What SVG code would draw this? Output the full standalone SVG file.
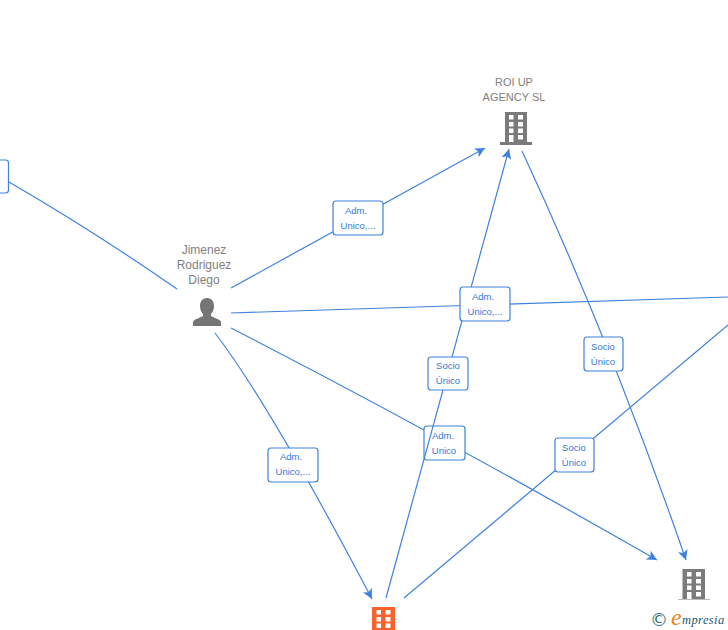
<svg xmlns="http://www.w3.org/2000/svg" width="728" height="630" viewBox="0 0 728 630">
<defs>
<style>
.c{fill:none;stroke:#3f82de;stroke-width:1.2}
.b{fill:#fff;stroke:#3f82de;stroke-width:1.2}
.l{font:9.5px "Liberation Sans",Arial,sans-serif;fill:#3578d8;text-anchor:middle}
.n{font:12px "Liberation Sans",Arial,sans-serif;fill:#808080;text-anchor:middle}
.r{font-size:11px}
.w{fill:#fff}
</style>
<marker id="a" markerWidth="11" markerHeight="10" refX="10" refY="5" orient="auto" markerUnits="userSpaceOnUse"><path d="M0 0L10 5L0 10L2.500 5Z" fill="#3f82de"/></marker>
<path id="w" d="M4 3h4.500v4.500H4zM13 3h5v4.500h-5zM4 10h4.500v4.500H4zM13 10h5v4.500h-5zM4 16.500h4.500V21H4zM13 16.500h5V21h-5zM4 23h4.500v7H4zM13 23h5v4.500h-5z"/>
</defs>
<g id="connectors">
<path class="c" d="M9 182Q95 232 177 289"/>
<path class="c" marker-end="url(#a)" d="M231 288L485 148"/>
<path class="c" d="M231 313L728 297"/>
<path class="c" marker-end="url(#a)" d="M215 333Q270 405 372 599"/>
<path class="c" marker-end="url(#a)" d="M231 328Q430 430 657 560"/>
<path class="c" d="M404 598L728 325"/>
<path class="c" marker-end="url(#a)" d="M522 151Q610 340 686 560"/>
<g><rect class="b" x="424" y="426" width="41" height="34" rx="3"/><text class="l" x="443" y="439">Adm.</text><text class="l" x="444" y="454">Unico</text></g>
<path class="c" marker-end="url(#a)" d="M386 598L509 149"/>
<g><rect class="b" x="333" y="201" width="50" height="34" rx="3"/><text class="l" x="356" y="214">Adm.</text><text class="l" x="358" y="229">Unico,...</text></g>
<g><rect class="b" x="460" y="287" width="50" height="34" rx="3"/><text class="l" x="483" y="300">Adm.</text><text class="l" x="485" y="315">Unico,...</text></g>
<g><rect class="b" x="428" y="357" width="40" height="33" rx="3"/><text class="l" x="448" y="369">Socio</text><text class="l" x="448" y="384">Único</text></g>
<g><rect class="b" x="268" y="448" width="50" height="34" rx="3"/><text class="l" x="291" y="460">Adm.</text><text class="l" x="293" y="475">Unico,...</text></g>
<g><rect class="b" x="555" y="438" width="39" height="34" rx="3"/><text class="l" x="574" y="451">Socio</text><text class="l" x="574" y="466">Único</text></g>
<g><rect class="b" x="584" y="337" width="39" height="34" rx="3"/><text class="l" x="603" y="350">Socio</text><text class="l" x="603" y="365">Único</text></g>
<rect class="b" x="-10" y="160" width="18.500" height="33" rx="3"/>
</g>
<g id="roi-up">
<text class="n r" x="514" y="86">ROI UP</text><text class="n r" x="514" y="101">AGENCY SL</text>
<path fill="#7b7b7b" d="M505 112h22v30h5v3h-32v-3h5z"/>
<use href="#w" class="w" x="505" y="112"/>
</g>
<g id="jimenez">
<text class="n" x="204" y="254">Jimenez</text><text class="n" x="204" y="269">Rodriguez</text><text class="n" x="204" y="284">Diego</text>
<path fill="#757575" d="M207 298c5 0 7 4 7 8 0 3-1 6-3 8v2c3 2 9 3 10 6v4h-28v-4c1-3 7-4 10-6v-2c-2-2-3-5-3-8 0-4 2-8 7-8z"/>
</g>
<g id="orange">
<path fill="#f9622b" d="M372 607h23v23h-23z"/>
<use href="#w" class="w" x="372.500" y="607"/>
</g>
<g id="grey">
<path fill="#7b7b7b" d="M682.500 569h22.500v30h-22.500z"/>
<path fill="#bbb" d="M678 599h32v1h-32z"/>
<use href="#w" class="w" x="683" y="569"/>
</g>
<g id="logo">
<text x="650" y="626" style="font:18px 'DejaVu Sans',sans-serif;fill:#2f7080">©</text>
<text x="671" y="625" style="font:italic 24px 'Liberation Serif',serif;fill:#f0821e">e</text>
<text x="682" y="624" style="font:italic 12.500px 'Liberation Serif',serif;fill:#1c5a6e;letter-spacing:.4px">mpresia</text>
</g>
</svg>
